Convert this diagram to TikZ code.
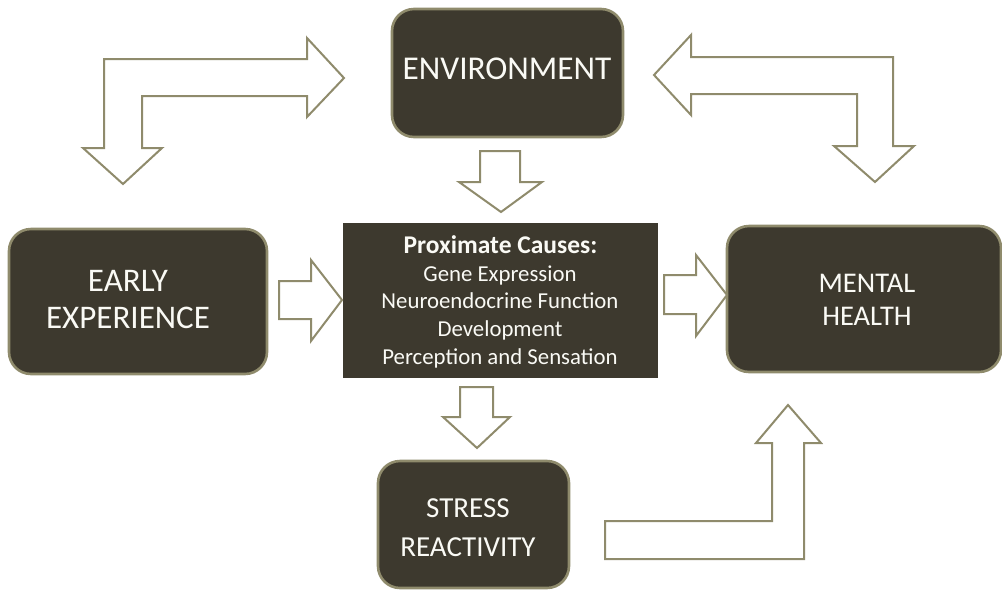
\documentclass[tikz,border=0pt]{standalone}
\usepackage{fontspec}
\setmainfont{Carlito}
\definecolor{boxfill}{RGB}{61,57,46}
\definecolor{olive}{RGB}{143,139,108}
\definecolor{txt}{RGB}{250,250,245}
\begin{document}
\begin{tikzpicture}[x=1pt,y=-1pt,
  rbox/.style={draw=olive, line width=2.6pt, fill=boxfill, rounded corners=22pt, inner sep=0pt},
  sbox/.style={fill=boxfill, inner sep=0pt},
  blockarrow/.style={draw=olive, line width=2pt, fill=white, line join=miter},
  lbl/.style={text=txt, anchor=base, inner sep=0pt},
  big/.style={lbl, font=\fontsize{33}{36}\selectfont},
  mid/.style={lbl, font=\fontsize{28.5}{32}\selectfont},
  small/.style={lbl, font=\fontsize{22.8}{26}\selectfont}
]
\useasboundingbox (0,0) rectangle (1002,590);
% boxes
\node[rbox, minimum width=231pt, minimum height=128pt] (env) at (507.5,73) {};
\node[rbox, minimum width=258pt, minimum height=145pt] (early) at (138,301.5) {};
\node[sbox, minimum width=315pt, minimum height=155pt] (prox) at (500.5,300.5) {};
\node[rbox, minimum width=274pt, minimum height=146pt] (mental) at (864,299) {};
\node[rbox, minimum width=191pt, minimum height=127pt] (stress) at (473.5,524.5) {};
% labels
\node[lbl, font=\fontsize{33.3}{36}\selectfont] (envt) at (507,79) {ENVIRONMENT};
\node[big] (early1) at (128,291) {EARLY};
\node[big] (early2) at (128,328) {EXPERIENCE};
\node[mid] (mental1) at (867,292) {MENTAL};
\node[mid] (mental2) at (867,325) {HEALTH};
\node[lbl, font=\fontsize{29}{32}\selectfont] (stress1) at (468,517) {STRESS};
\node[lbl, font=\fontsize{29}{32}\selectfont] (stress2) at (468,556) {REACTIVITY};
\node[lbl, font=\fontsize{25.5}{28}\selectfont\bfseries] (p0) at (500.5,253) {Proximate Causes:};
\node[small] (p1) at (500,281) {Gene Expression};
\node[small] (p2) at (500,308.5) {Neuroendocrine Function};
\node[small] (p3) at (500,336) {Development};
\node[small] (p4) at (500,364) {Perception and Sensation};
% block arrows
\draw[blockarrow] (104,59) -- (307,59) -- (307,38) -- (344,78) -- (307,117) -- (307,96) -- (142,96) -- (142,148) -- (162,148) -- (123,184) -- (83,148) -- (104,148) -- cycle;
\draw[blockarrow] (893,57) -- (691,57) -- (691,35) -- (654,75) -- (691,115) -- (691,94) -- (857,94) -- (857,146) -- (834,146) -- (875,182) -- (914,146) -- (893,146) -- cycle;
\draw[blockarrow] (480,151) -- (520,151) -- (520,182) -- (542,182) -- (501,212) -- (459,182) -- (480,182) -- cycle;
\draw[blockarrow] (279,281) -- (311,281) -- (311,260) -- (342,300) -- (311,341) -- (311,319) -- (279,319) -- cycle;
\draw[blockarrow] (664,275) -- (696,275) -- (696,255) -- (727,295) -- (696,336) -- (696,314) -- (664,314) -- cycle;
\draw[blockarrow] (460,387) -- (493,387) -- (493,417) -- (510,417) -- (477,448) -- (443,417) -- (460,417) -- cycle;
\draw[blockarrow] (605,559) -- (804,559) -- (804,443) -- (821,443) -- (788,405) -- (756,443) -- (772,443) -- (772,521) -- (605,521) -- cycle;
\end{tikzpicture}
\end{document}
